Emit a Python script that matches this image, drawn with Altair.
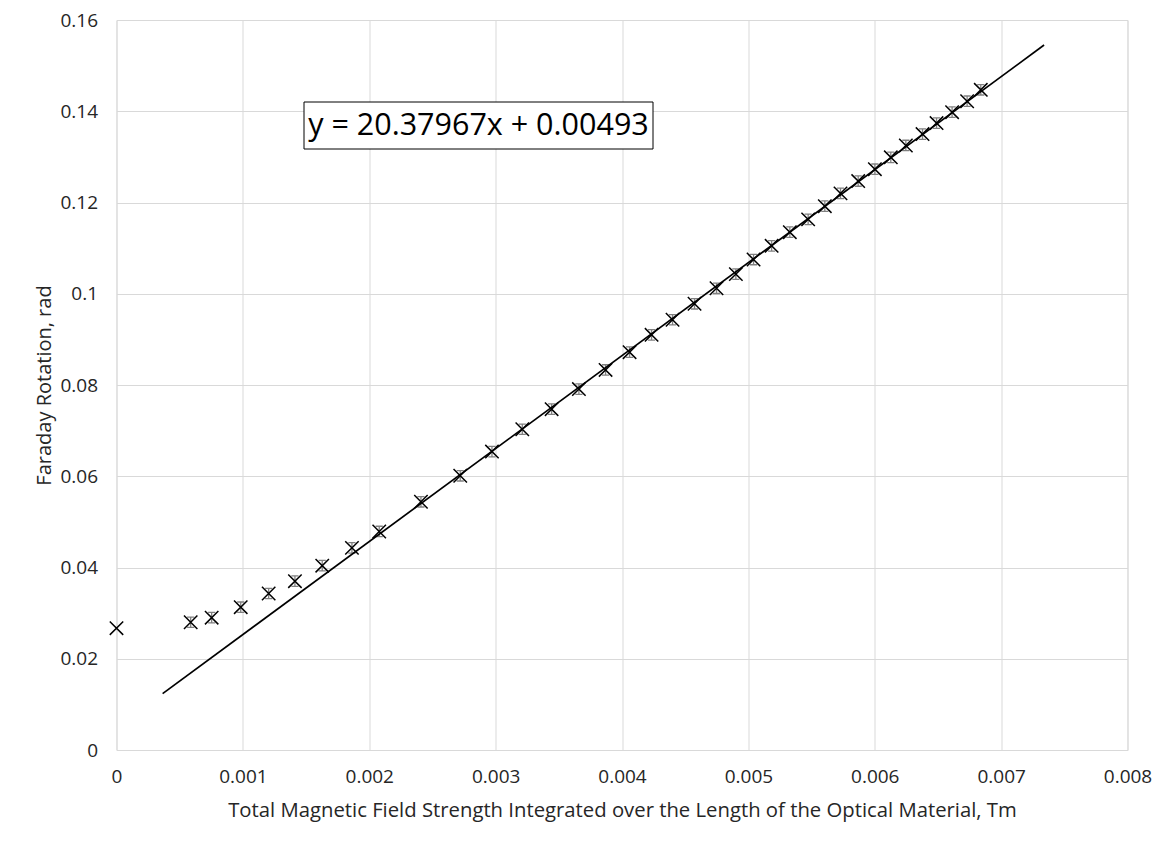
import altair as alt
import pandas as pd

# Measured points (x: Tm, y: rad)
field_tm = [0.0, 0.000587, 0.000753, 0.000983, 0.001204, 0.001412, 0.001628,
            0.001863, 0.002079, 0.002409, 0.002720, 0.002971, 0.003211,
            0.003443, 0.003659, 0.003870, 0.004060, 0.004234, 0.004400,
            0.004574, 0.004748, 0.004901, 0.005041, 0.005184, 0.005328,
            0.005473, 0.005605, 0.005729, 0.005869, 0.006001, 0.006127,
            0.006246, 0.006378, 0.006489, 0.006612, 0.006731, 0.006839]
rotation_rad = [0.0267, 0.0280, 0.0290, 0.0313, 0.0343, 0.0370, 0.0404,
                0.0443, 0.0479, 0.0544, 0.0601, 0.0654, 0.0703,
                0.0747, 0.0791, 0.0833, 0.0872, 0.0910, 0.0943,
                0.0978, 0.1012, 0.1043, 0.1075, 0.1105, 0.1135,
                0.1163, 0.1192, 0.1220, 0.1247, 0.1273, 0.1299,
                0.1325, 0.1350, 0.1374, 0.1398, 0.1422, 0.1447]

# Linear trendline shown in chart
slope = 20.37967
intercept = 0.00493
trend_x = [0.000365, 0.00734]
trend_y = [slope * v + intercept for v in trend_x]
equation_label = "y = 20.37967x + 0.00493"

x_ticks = [0, 0.001, 0.002, 0.003, 0.004, 0.005, 0.006, 0.007, 0.008]
y_ticks = [0, 0.02, 0.04, 0.06, 0.08, 0.1, 0.12, 0.14, 0.16]

FONT = "Open Sans"
GRID = "#d9d9d9"
TXT = "#262626"

pts = pd.DataFrame({"x": field_tm, "y": rotation_rad})
trend = pd.DataFrame({"x": trend_x, "y": trend_y})
eq = pd.DataFrame({"label": [equation_label]})

xscale = alt.Scale(domain=[0, 0.008], nice=False, zero=True)
yscale = alt.Scale(domain=[0, 0.16], nice=False, zero=True)

xaxis = alt.Axis(values=x_ticks, format=".3~f", grid=True, gridColor=GRID,
                 domain=False, ticks=False, tickSize=0, labelPadding=17,
                 labelFont=FONT, labelFontSize=19, labelColor=TXT,
                 title="Total Magnetic Field Strength Integrated over the Length of the Optical Material, Tm",
                 titleFont=FONT, titleFontSize=20.3, titleFontWeight="normal",
                 titleColor=TXT, titleBaseline="alphabetic", titleY=66,
                 labelFlush=False)
yaxis = alt.Axis(values=y_ticks, format=".2~f", grid=True, gridColor=GRID,
                 domain=False, ticks=False, tickSize=0, labelPadding=19,
                 labelFont=FONT, labelFontSize=19, labelColor=TXT,
                 title="Faraday Rotation, rad",
                 titleFont=FONT, titleFontSize=20, titleFontWeight="normal",
                 titleColor=TXT, titleAngle=270, titleBaseline="alphabetic",
                 titleX=-66, titleY=365, titleAlign="center", labelFlush=False)

errbars = alt.Chart(pts).transform_filter("datum.x > 0").mark_point(
    shape="M-0.55,-0.8L0.55,-0.8M-0.55,0.8L0.55,0.8M0,-0.8L0,0.8",
    filled=False, color="#808080", strokeWidth=1.3, size=170, opacity=1
).encode(
    x=alt.X("x:Q", scale=xscale, axis=xaxis),
    y=alt.Y("y:Q", scale=yscale, axis=yaxis),
)

points = alt.Chart(pts).mark_point(
    shape="M-1,-1L1,1M-1,1L1,-1", filled=False, color="black",
    strokeWidth=1.5, size=180, opacity=1
).encode(
    x=alt.X("x:Q", scale=xscale),
    y=alt.Y("y:Q", scale=yscale),
)

line = alt.Chart(trend).mark_line(color="black", strokeWidth=1.7).encode(
    x=alt.X("x:Q", scale=xscale),
    y=alt.Y("y:Q", scale=yscale),
)

box = alt.Chart(eq).mark_rect(fill="white", stroke="black", strokeWidth=1).encode(
    x=alt.value(187.5), x2=alt.value(536.5), y=alt.value(82), y2=alt.value(129)
)

eq_text = alt.Chart(eq).mark_text(
    font=FONT, fontSize=30.5, color="black", align="center", baseline="middle"
).encode(
    text="label:N", x=alt.value(362), y=alt.value(106)
)

chart = alt.layer(errbars, points, line, box, eq_text).properties(
    width=1011, height=730,
    autosize=alt.AutoSizeParams(type="none"),
    padding={"left": 108.5, "top": 12, "right": 29, "bottom": 80},
).configure_view(stroke=GRID, strokeWidth=1).configure(background="white")

chart.save("out.html", embed_options={"renderer": "svg", "actions": False})
